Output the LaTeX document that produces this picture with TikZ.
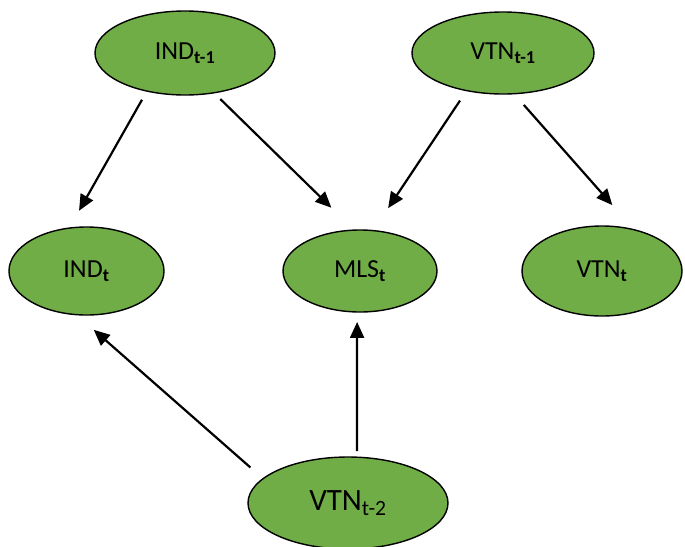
\documentclass[tikz,border=0pt]{standalone}
\usepackage{fontspec}
\setmainfont{Carlito}
\usetikzlibrary{positioning,shapes.geometric,arrows.meta}
\definecolor{varGreen}{RGB}{112,173,71}

\begin{document}
\begin{tikzpicture}[x=1pt,y=-1pt,
        var/.style={
            ellipse, draw = black, line width = 1.4pt, fill = varGreen, inner sep = 0pt, outer sep = 0pt, font = \fontsize{26}{30}\selectfont
        },
        link/.style={
            line width = 2.2pt, -{Triangle[length=16pt,width=14pt]}
        },
    ]
        \useasboundingbox (0,0) rectangle (685,546);

        \node (indPrev) [var,minimum width=180pt,minimum height=84pt] at (185,53) {IND\textsubscript{\textbf{t-1}}};
        \node (vtnPrev) [var,minimum width=182pt,minimum height=82pt,right=137pt of indPrev] {VTN\textsubscript{\textbf{t-1}}};

        \node (mlsCur) [var,minimum width=154pt,minimum height=82pt] at (360,271) {MLS\textsubscript{\textbf{t}}};
        \node (indCur) [var,minimum width=155pt,minimum height=88pt,left=119pt of mlsCur] {IND\textsubscript{\textbf{t}}};
        \node (vtnCur) [var,minimum width=160pt,minimum height=90pt,right=85pt of mlsCur] {VTN\textsubscript{\textbf{t}}};

        \node (vtnPrevTwo) [var,minimum width=200pt,minimum height=92pt,below=145pt of mlsCur,xshift=-12pt,font=\fontsize{31}{36}\selectfont] {VTN\textsubscript{t-2}};

        \path (indPrev.225) edge[link,shorten <=10pt,shorten >=20pt] (indCur.112);
        \path (indPrev.306) edge[link,shorten <=9pt,shorten >=32pt] (mlsCur.98);
        \path (vtnPrev.226) edge[link,shorten <=12pt,shorten >=27pt] (mlsCur.72);
        \path (vtnPrev.285) edge[link,shorten <=15pt,shorten >=33pt] (vtnCur.52);
        \path (vtnPrevTwo.164) edge[link,shorten <=17pt,shorten >=23pt] (indCur.257);
        \path (vtnPrevTwo.79) edge[link,shorten <=6pt,shorten >=10pt] (mlsCur.266);

    \end{tikzpicture}
\end{document}
